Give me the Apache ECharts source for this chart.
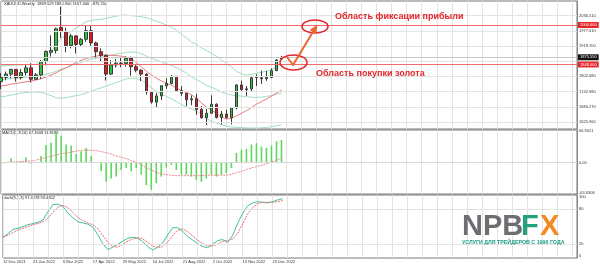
<!DOCTYPE html>
<html><head><meta charset="utf-8">
<script src="https://cdn.jsdelivr.net/npm/echarts@6/dist/echarts.min.js"></script>
<style>html,body{margin:0;padding:0;background:#fff}#c{width:600px;height:266px}</style>
</head><body><div id="c"></div>
<script>
// ---------- DATA ----------
const dateLabels = ['12 Dec 2021','23 Jan 2022','6 Mar 2022','17 Apr 2022','29 May 2022','10 Jul 2022','21 Aug 2022','2 Oct 2022','13 Nov 2022','25 Dec 2022'];
const opens  = [1782,1798,1811,1829,1797,1817,1835,1791,1808,1859,1895,1902,1990,1975,1921,1958,1925,1945,1978,1931,1897,1883,1811,1846,1853,1851,1871,1839,1826,1811,1742,1703,1727,1766,1775,1802,1747,1737,1712,1716,1675,1643,1660,1695,1644,1657,1644,1681,1769,1751,1754,1798,1797,1793,1798,1824,1869.529];
const highs  = [1815,1821,1831,1830,1830,1848,1853,1815,1865,1902,1960,1990,2070,1990,1966,1960,1950,1998,1998,1936,1910,1886,1865,1870,1874,1879,1878,1847,1830,1814,1745,1739,1767,1795,1807,1804,1765,1738,1729,1735,1688,1677,1729,1698,1669,1674,1682,1772,1786,1765,1804,1810,1824,1823,1833,1869,1880.900];
const lows   = [1753,1787,1795,1782,1790,1805,1779,1788,1792,1845,1878,1890,1950,1895,1910,1890,1916,1935,1920,1872,1858,1786,1807,1836,1837,1840,1805,1818,1784,1732,1697,1681,1711,1754,1771,1745,1727,1688,1691,1654,1639,1615,1659,1640,1617,1639,1617,1675,1747,1727,1744,1765,1773,1785,1795,1824,1867.040];
const closes = [1798,1811,1829,1797,1817,1835,1791,1808,1859,1898,1902,1985,1975,1921,1958,1925,1945,1978,1931,1897,1883,1811,1846,1853,1851,1871,1839,1826,1811,1742,1703,1727,1766,1775,1802,1747,1737,1712,1716,1675,1643,1660,1695,1644,1657,1644,1681,1769,1751,1754,1797,1797,1793,1798,1824,1865,1875.550];

const bbUpper  = [1842,1843,1845,1846,1846,1847,1848,1848,1858,1875,1898,1925,1948,1962,1975,1988,2000,2012,2018,2020,2022,2026,2030,2034,2038,2038,2036,2034,2032,2028,2022,2014,2008,2000,1992,1980,1965,1950,1935,1925,1912,1902,1892,1880,1866,1852,1838,1822,1812,1806,1810,1814,1818,1822,1828,1838,1850];
const bbMiddle = [1790,1792,1794,1795,1797,1799,1800,1801,1805,1810,1815,1822,1830,1836,1843,1850,1856,1862,1868,1872,1876,1880,1884,1888,1891,1894,1896,1895,1890,1880,1872,1865,1858,1851,1845,1836,1826,1815,1800,1790,1780,1768,1760,1752,1742,1735,1730,1728,1726,1724,1722,1721,1722,1725,1728,1733,1738];
const bbLower  = [1723,1726,1730,1734,1738,1740,1742,1742,1740,1735,1728,1720,1718,1720,1724,1728,1732,1738,1745,1752,1758,1765,1772,1778,1785,1792,1796,1794,1788,1775,1758,1745,1735,1725,1716,1705,1694,1685,1676,1668,1655,1640,1630,1622,1616,1611,1607,1606,1605,1604,1603,1603,1604,1606,1608,1612,1616];
const maRed    = [1765,1768,1772,1775,1778,1781,1784,1788,1793,1800,1807,1816,1826,1835,1845,1855,1864,1871,1876,1880,1884,1884,1883,1882,1880,1876,1868,1856,1840,1822,1808,1795,1785,1776,1768,1758,1748,1740,1732,1718,1700,1684,1673,1660,1645,1638,1640,1650,1660,1670,1682,1695,1705,1715,1726,1738,1750];

const macdHist   = [1,1,9,0,2,11,-2,1,14,37,42,66,57,38,36,18,24,31,13,-1,-18,-41,-34,-30,-16,-12,-19,-12,-26,-48,-58,-44,-30,-11,-5,-16,-26,-26,-30,-37,-41,-34,-26,-30,-26,-23,-12,20,27,29,38,41,34,31,36,45,48];
const macdSignal = [-1,0,1,1,2,3,3,5,8,10,13,16,19,20,22,24,26,26,26,25,23,21,18,14,11,8,4,1,-5,-11,-16,-21,-24,-26,-27,-28,-28,-28,-28,-28,-28,-27,-27,-27,-27,-27,-25,-22,-19,-15,-12,-9,-6,-3,1,5,9];

const stochK = [31,38,45,47,50,53,55,57,61,75,87,88,84,73,65,58,56,54,49,36,21,11,15,20,25,30,32,30,24,16,10,15,22,36,48,48,42,33,27,21,16,14,20,26,28,23,35,55,72,85,90,92,91,90,92,95,97];
const stochD = [33,35,40,44,47,50,53,55,58,64,74,83,86,82,74,65,60,56,53,46,35,23,16,15,20,25,29,31,29,23,17,14,16,24,35,44,46,41,34,27,21,17,17,20,25,26,29,38,54,71,82,89,91,91,91,92,94];

const priceGrid   = [1625.96,1684.27,1742.98,1802.08,1860.39,1918.70,1977.01,2036.51];
const priceLabels = [1625.96,1684.27,1742.98,1802.08,1918.70,1977.01,2036.51];
const profitLevel = 2000.000, buyLevel = 1848.000, lastPrice = 1875.550;
const macdTicks = [-63.6306, 0, 66.9021];
const macdTickText = ['-63.6306','0.00','66.9021'];
const stochTicks = [0,20,80,100];

const headerText = 'XAUUSD,Weekly  1869.529 1880.900 1867.040 1875.550';
const macdTitle = 'MACD(3,8,16) 67.1608 11.8182';
const stochTitle = 'Stoch(9,3,3) 97.4078 93.4802';

// ---------- CHART ----------
const SLOTS = 116;
const cats = Array.from({length: SLOTS}, (_, i) => String(i));
const candles = opens.map((o, i) => [o, closes[i], lows[i], highs[i]]);
const FONT = 'Liberation Sans';
const gridLine = {show: true, lineStyle: {color: '#e3e3e3', width: 1}, interval: (i) => i % 3 === 0};

const chart = echarts.init(document.getElementById('c'), null, {renderer: 'canvas'});

const xBase = (gi, showLabels) => ({
  type: 'category', gridIndex: gi, data: cats, boundaryGap: false,
  axisLine: {show: false}, axisTick: {show: false},
  splitLine: gridLine,
  axisLabel: showLabels ? {
    show: true, fontSize: 4, color: '#333', fontFamily: FONT, align: 'left', margin: 2,
    interval: (i) => i % 6 === 0 && i / 6 < dateLabels.length,
    formatter: (v, i) => (i % 6 === 0 && i / 6 < dateLabels.length) ? dateLabels[i / 6] : ''
  } : {show: false}
});

const yLab = {fontSize: 4, color: '#333', fontFamily: FONT, margin: 2};

chart.setOption({
  animation: false,
  backgroundColor: '#ffffff',
  grid: [
    {left: 1, right: 23, top: 1, height: 128, show: true, borderColor: '#777', borderWidth: 1},
    {left: 1, right: 23, top: 130, height: 64, show: true, borderColor: '#777', borderWidth: 1},
    {left: 1, right: 23, top: 195, height: 63, show: true, borderColor: '#777', borderWidth: 1}
  ],
  xAxis: [xBase(0, false), xBase(1, false), xBase(2, true)],
  yAxis: [
    {type: 'value', gridIndex: 0, position: 'right', min: 1599.5, max: 2092.3,
     splitLine: {show: false}, axisLine: {show: true, lineStyle: {color: '#888'}},
     axisTick: {show: false},
     axisLabel: Object.assign({customValues: priceLabels, formatter: v => v.toFixed(3)}, yLab)},
    {type: 'value', gridIndex: 1, position: 'right', min: -67, max: 69,
     splitLine: {show: false}, axisLine: {show: true, lineStyle: {color: '#888'}},
     axisTick: {show: false},
     axisLabel: Object.assign({customValues: macdTicks,
       formatter: v => macdTickText[macdTicks.indexOf(v)] ?? ''}, yLab)},
    {type: 'value', gridIndex: 2, position: 'right', min: -3.4, max: 103.4,
     splitLine: {show: false}, axisLine: {show: true, lineStyle: {color: '#888'}},
     axisTick: {show: false},
     axisLabel: Object.assign({customValues: stochTicks, formatter: v => String(v)}, yLab)}
  ],
  series: [
    {type: 'candlestick', xAxisIndex: 0, yAxisIndex: 0, data: candles, barWidth: 3,
     itemStyle: {color: '#2ec23a', color0: '#e4181c', borderColor: '#3a3a3a', borderColor0: '#3a3a3a', borderWidth: 1},
     markLine: {silent: true, symbol: 'none', animation: false,
       data: priceGrid.map(v => ({yAxis: v, lineStyle: {color: '#e3e3e3', width: 1, type: 'solid'}, label: {show: false}}))
         .concat([
           {yAxis: lastPrice, lineStyle: {color: '#c8c8c8', width: 1, type: 'solid'},
            label: {show: true, position: 'end', distance: 1, formatter: lastPrice.toFixed(3), fontSize: 4, fontFamily: FONT,
                    color: '#fff', backgroundColor: '#111', padding: [1, 2]}},
           {yAxis: profitLevel, lineStyle: {color: '#f06c6c', width: 1, type: 'solid'},
            label: {show: true, position: 'end', distance: 1, formatter: profitLevel.toFixed(3), fontSize: 4, fontFamily: FONT,
                    color: '#fff', backgroundColor: '#e8262a', padding: [1, 2]}},
           {yAxis: buyLevel, lineStyle: {color: '#f06c6c', width: 1, type: 'solid'},
            label: {show: true, position: 'end', distance: 1, formatter: buyLevel.toFixed(3), fontSize: 4, fontFamily: FONT,
                    color: '#fff', backgroundColor: '#e8262a', padding: [1, 2]}}
         ])}},
    {type: 'line', xAxisIndex: 0, yAxisIndex: 0, data: bbUpper, showSymbol: false, lineStyle: {color: '#a3dcc2', width: 1}, z: 1},
    {type: 'line', xAxisIndex: 0, yAxisIndex: 0, data: bbMiddle, showSymbol: false, lineStyle: {color: '#a3dcc2', width: 1}, z: 1},
    {type: 'line', xAxisIndex: 0, yAxisIndex: 0, data: bbLower, showSymbol: false, lineStyle: {color: '#a3dcc2', width: 1}, z: 1},
    {type: 'line', xAxisIndex: 0, yAxisIndex: 0, data: maRed, showSymbol: false, lineStyle: {color: '#ec7b7b', width: 1}, z: 1},
    {type: 'bar', xAxisIndex: 1, yAxisIndex: 1, data: macdHist, barWidth: 1.6, itemStyle: {color: '#5fd65f'},
     markLine: {silent: true, symbol: 'none', label: {show: false},
       data: [{yAxis: 0, lineStyle: {color: '#d8d8d8', width: 1, type: 'solid'}}]}},
    {type: 'line', xAxisIndex: 1, yAxisIndex: 1, data: macdSignal, showSymbol: false, lineStyle: {color: '#ec8a8a', width: 1, type: [2, 1]}},
    {type: 'line', xAxisIndex: 2, yAxisIndex: 2, data: stochK, showSymbol: false, lineStyle: {color: '#3fbf9e', width: 1},
     markLine: {silent: true, symbol: 'none', label: {show: false},
       data: [{yAxis: 20}, {yAxis: 80}], lineStyle: {color: '#e3e3e3', width: 1, type: 'solid'}}},
    {type: 'line', xAxisIndex: 2, yAxisIndex: 2, data: stochD, showSymbol: false, lineStyle: {color: '#e86a6a', width: 1, type: [2, 1]}}
  ],
  graphic: [
    {type: 'text', left: 4, top: 2, style: {text: headerText, fontSize: 4, fontFamily: FONT, fill: '#222'}},
    {type: 'text', left: 2, top: 131, style: {text: macdTitle, fontSize: 4, fontFamily: FONT, fill: '#222'}},
    {type: 'text', left: 2, top: 196, style: {text: stochTitle, fontSize: 4, fontFamily: FONT, fill: '#222'}},
    // annotations
    {type: 'ellipse', shape: {cx: 293.5, cy: 62.5, rx: 13.5, ry: 7.5}, style: {fill: 'none', stroke: '#e3262a', lineWidth: 1.5}, z: 50},
    {type: 'ellipse', shape: {cx: 315, cy: 26.5, rx: 13, ry: 6.5}, style: {fill: 'none', stroke: '#e3262a', lineWidth: 1.5}, z: 50},
    {type: 'polyline', shape: {points: [[287, 57], [293, 65], [313.5, 31]]}, style: {stroke: '#ef6433', lineWidth: 2, fill: 'none'}, z: 51},
    {type: 'polygon', shape: {points: [[317.5, 24.5], [309.6, 30.0], [316.2, 34.0]]}, style: {fill: '#ef6433'}, z: 51},
    {type: 'text', left: 335, top: 12, style: {text: 'Область фиксации прибыли', fontSize: 9, fontWeight: 'bold', fontFamily: FONT, fill: '#e3262a'}, z: 52},
    {type: 'text', left: 316, top: 69, style: {text: 'Область покупки золота', fontSize: 9, fontWeight: 'bold', fontFamily: FONT, fill: '#e3262a'}, z: 52},
    // logo
    {type: 'text', left: 462, top: 212, style: {text: 'NPB', fontSize: 29, fontWeight: 'bold', fontFamily: FONT, fill: '#6d6e71'}, z: 52},
    {type: 'text', left: 521, top: 212, style: {text: 'F', fontSize: 29, fontWeight: 'bold', fontFamily: FONT, fill: '#25a27c'}, z: 52},
    {type: 'text', left: 540, top: 212, style: {text: 'X', fontSize: 29, fontWeight: 'bold', fontFamily: FONT, fill: '#f28a1e'}, z: 52},
    {type: 'text', left: 462, top: 240, style: {text: 'УСЛУГИ ДЛЯ ТРЕЙДЕРОВ С 1996 ГОДА', fontSize: 5.3, fontWeight: 'bold', fontFamily: FONT, fill: '#1f9d82'}, z: 52}
  ]
});
</script>
</body></html>
